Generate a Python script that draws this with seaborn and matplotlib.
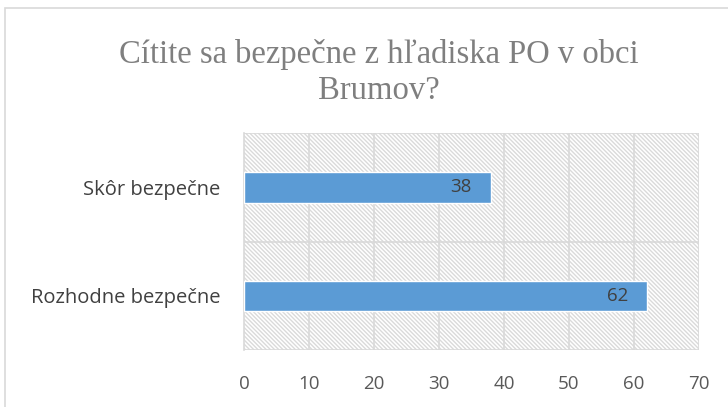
import matplotlib
matplotlib.use("Agg")
import matplotlib.pyplot as plt
import seaborn as sns
import pandas as pd
from matplotlib.patches import Rectangle

categories = ["Skôr bezpečne", "Rozhodne bezpečne"]
values = [38, 62]
xticks = [0, 10, 20, 30, 40, 50, 60, 70]
title = "Cítite sa bezpečne z hľadiska PO v obci\nBrumov?"

sns.set_theme(style="white")
plt.rcParams['font.family'] = ['Open Sans', 'DejaVu Sans']
plt.rcParams['hatch.color'] = '#dadada'
plt.rcParams['hatch.linewidth'] = 1.0

df = pd.DataFrame({"cat": categories, "val": values})

fig = plt.figure(figsize=(7.28, 4.07), dpi=100)
fig.patch.set_facecolor('white')
fig.add_artist(Rectangle((0.007, -0.01), 1.0, 0.99, transform=fig.transFigure,
                         fill=False, edgecolor='#d9d9d9', linewidth=1.2))
ax = fig.add_axes([0.335, 0.140, 0.625, 0.533])
ax.patch.set_facecolor('white')
ax.patch.set_hatch('\\\\\\\\\\\\\\\\')
ax.patch.set_edgecolor('#dadada')

sns.barplot(data=df, x="val", y="cat", orient="h", color="#5b9bd5",
            saturation=1, width=0.28, ax=ax, zorder=3)

ax.set_xlim(0, 70)
ax.set_ylim(1.5, -0.5)
ax.set_xticks(xticks)
ax.set_xticklabels([str(t) for t in xticks], color='#595959', fontsize=13.5)
ax.tick_params(axis='x', length=0, pad=18)
ax.tick_params(axis='y', which='major', length=0, pad=17, labelcolor='#404040', labelsize=14.5)
ax.set_yticks([-0.5, 0.5, 1.5], minor=True)
ax.tick_params(axis='y', which='minor', length=7, color='#d9d9d9', width=1.2, direction='out')
ax.set_xlabel("")
ax.set_ylabel("")

for t in xticks[1:]:
    ax.axvline(t, color='#d9d9d9', lw=1.2, zorder=1)
for yv in [-0.5, 0.5, 1.5]:
    ax.axhline(yv, color='#d9d9d9', lw=1.2, zorder=1)

for s in ['top', 'right', 'bottom']:
    ax.spines[s].set_visible(False)
ax.spines['left'].set_color('#d9d9d9')
ax.spines['left'].set_linewidth(1.2)

for c in ax.containers:
    ax.bar_label(c, labels=[str(v) for v in values], padding=-29, color='#404040', fontsize=13.5)

fig.text(0.52, 0.822, title, ha='center', va='center', fontsize=23.5, color='#7f7f7f',
         family=['Liberation Serif'], linespacing=1.22)

fig.savefig("out.png", dpi=100)
